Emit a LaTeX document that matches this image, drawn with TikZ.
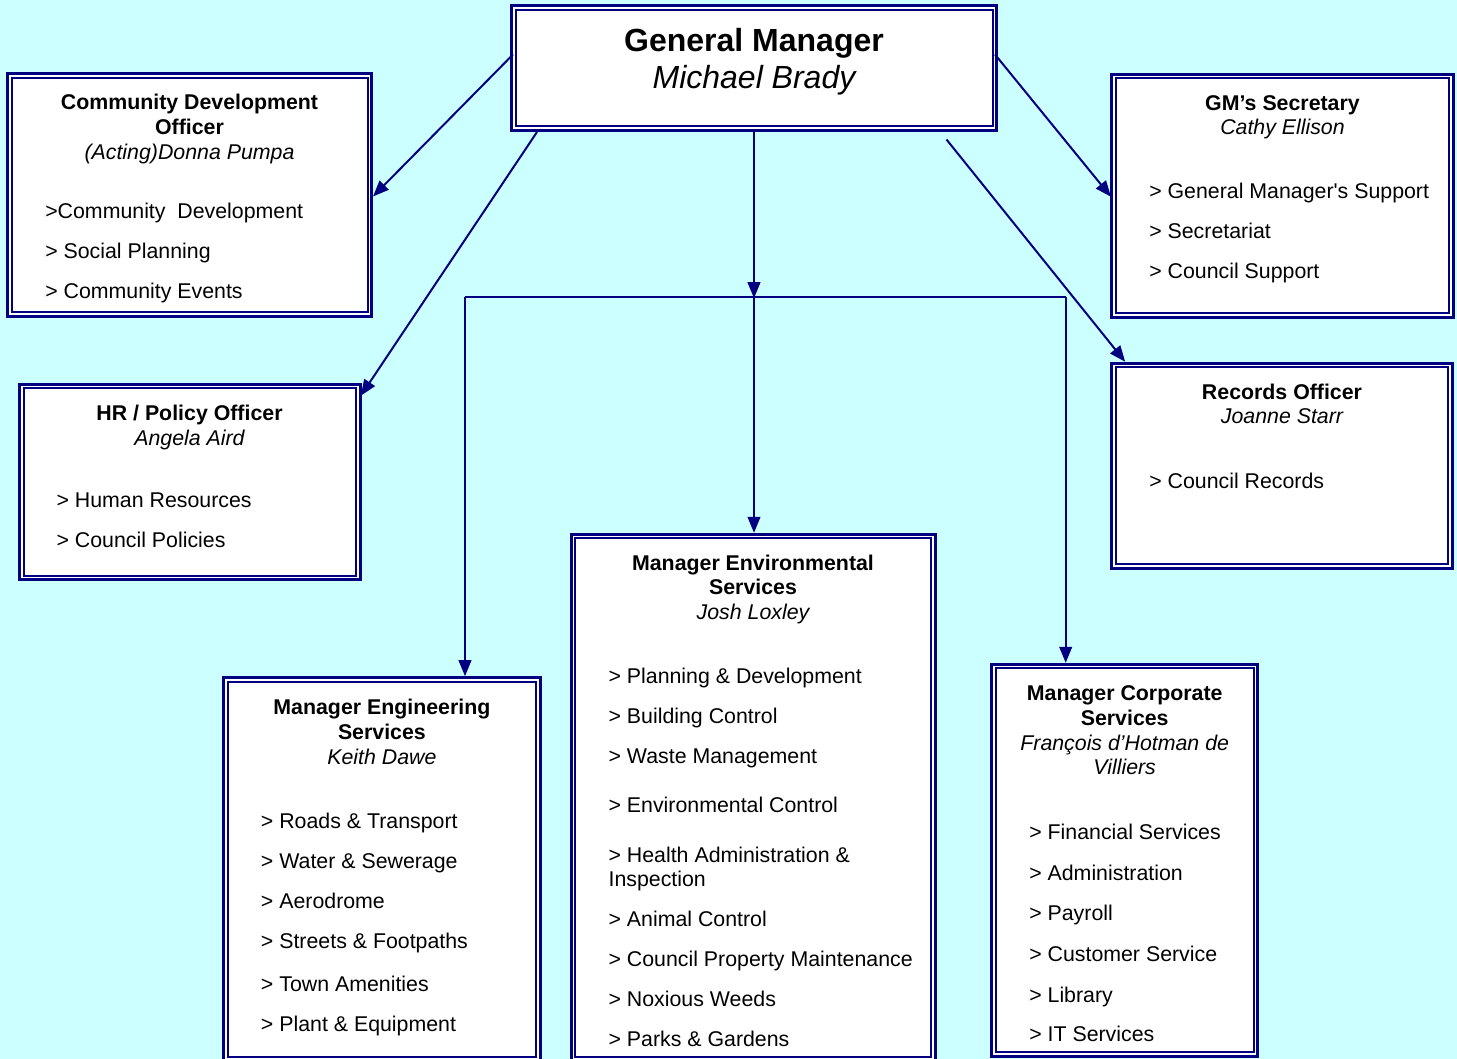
\documentclass[tikz,border=0pt]{standalone}
\usepackage{fontspec}
\setmainfont{Liberation Sans}[Ligatures=TeXOff]
\usetikzlibrary{arrows.meta,fit,calc}
\definecolor{navy}{RGB}{0,0,128}
\definecolor{bgc}{RGB}{204,255,255}
\tikzset{
  box/.style={draw=navy, line width=2.25pt, fill=white, inner sep=0pt, rectangle},
  innerbox/.style={draw=navy, line width=1.5pt},
  conn/.style={draw=navy, line width=1.5pt},
  arr/.style={conn, -{Triangle[length=12pt,width=9.5pt]}},
  txt/.style={inner sep=0pt, yshift=-0.9pt},
  ttl/.style={txt, font=\fontsize{16}{19}\selectfont\bfseries, anchor=base},
  nm/.style={txt, font=\fontsize{16}{19}\selectfont\itshape, anchor=base},
  itm/.style={txt, font=\fontsize{16}{19}\selectfont, anchor=base west},
  bigttl/.style={txt, font=\fontsize{24}{28}\selectfont\bfseries, anchor=base},
  bignm/.style={txt, font=\fontsize{24}{28}\selectfont\itshape, anchor=base},
}
\newcommand{\inbox}[1]{\draw[innerbox] ([shift={(5.5,5.5)}]#1.north west) rectangle ([shift={(-5.5,-5.5)}]#1.south east);}
\begin{document}
\begin{tikzpicture}[x=0.75pt,y=-0.75pt]
\useasboundingbox (0,0) rectangle (1457,1059);
\fill[bgc] (0,0) rectangle (1457,1059);
\begin{scope}
\clip (0,0) rectangle (1457,1059);
% boxes
\node[box, fit={(511.5,6) (996.5,130.5)}] (gm) {};
\node[box, fit={(7.5,74) (371.5,316.5)}] (cdo) {};
\node[box, fit={(1111.5,74.3) (1453.3,317.5)}] (sec) {};
\node[box, fit={(19.7,384.2) (360.3,579.7)}] (hr) {};
\node[box, fit={(1111.7,363.3) (1452.3,568.3)}] (rec) {};
\node[box, fit={(223.8,677.7) (540,1061)}] (eng) {};
\node[box, fit={(571,534.3) (935,1061)}] (env) {};
\node[box, fit={(991.7,664.3) (1257.7,1056)}] (corp) {};
\inbox{gm}\inbox{cdo}\inbox{sec}\inbox{hr}\inbox{rec}\inbox{eng}\inbox{env}\inbox{corp}
\end{scope}

% General Manager
\node[bigttl] (gmT) at (754,50.5) {General Manager};
\node[bignm] (gmN) at (754,87.8) {Michael Brady};

% Community Development Officer
\node[ttl] (cdoT1) at (189.5,108.5) {Community Development};
\node[ttl] (cdoT2) at (189.5,133) {Officer};
\node[nm] (cdoN) at (189.5,158) {(Acting)Donna Pumpa};
\node[itm] (cdoI1) at (45,217.2) {>Community\ \ Development};
\node[itm] (cdoI2) at (45,257.2) {> Social Planning};
\node[itm] (cdoI3) at (45,297.2) {> Community Events};

% GM's Secretary
\node[ttl] (secT) at (1282.5,109.3) {GM’s Secretary};
\node[nm] (secN) at (1282.5,133.8) {Cathy Ellison};
\node[itm] (secI1) at (1149,197.3) {> General Manager's Support};
\node[itm] (secI2) at (1149,237.3) {> Secretariat};
\node[itm] (secI3) at (1149,277.3) {> Council Support};

% HR / Policy Officer
\node[ttl] (hrT) at (189.5,419) {HR / Policy Officer};
\node[nm] (hrN) at (189.5,444.3) {Angela Aird};
\node[itm] (hrI1) at (56.3,506.7) {> Human Resources};
\node[itm] (hrI2) at (56.3,546) {> Council Policies};

% Records Officer
\node[ttl] (recT) at (1282,398.3) {Records Officer};
\node[nm] (recN) at (1282,422.5) {Joanne Starr};
\node[itm] (recI1) at (1149,487.7) {> Council Records};

% Manager Engineering Services
\node[ttl] (engT1) at (381.9,713.3) {Manager Engineering};
\node[ttl] (engT2) at (381.9,738.3) {Services};
\node[nm] (engN) at (381.9,763.5) {Keith Dawe};
\node[itm] (engI1) at (260.7,827.5) {> Roads \& Transport};
\node[itm] (engI2) at (260.7,867.5) {> Water \& Sewerage};
\node[itm] (engI3) at (260.7,907.5) {> Aerodrome};
\node[itm] (engI4) at (260.7,947.5) {> Streets \& Footpaths};
\node[itm] (engI5) at (260.7,990) {> Town Amenities};
\node[itm] (engI6) at (260.7,1030) {> Plant \& Equipment};

% Manager Environmental Services
\node[ttl] (envT1) at (753,569) {Manager Environmental};
\node[ttl] (envT2) at (753,593.5) {Services};
\node[nm] (envN) at (753,618.5) {Josh Loxley};
\node[itm] (envI1) at (608.3,682) {> Planning \& Development};
\node[itm] (envI2) at (608.3,722) {> Building Control};
\node[itm] (envI3) at (608.3,762) {> Waste Management};
\node[itm] (envI4) at (608.3,811) {> Environmental Control};
\node[itm] (envI5a) at (608.3,861) {> Health Administration \&};
\node[itm] (envI5b) at (608.3,885) {Inspection};
\node[itm] (envI6) at (608.3,925) {> Animal Control};
\node[itm] (envI7) at (608.3,965) {> Council Property Maintenance};
\node[itm] (envI8) at (608.3,1005) {> Noxious Weeds};
\node[itm] (envI9) at (608.3,1045) {> Parks \& Gardens};

% Manager Corporate Services
\node[ttl] (corpT1) at (1124.7,699.3) {Manager Corporate};
\node[ttl] (corpT2) at (1124.7,724) {Services};
\node[nm] (corpN1) at (1124.7,749) {François d’Hotman de};
\node[nm] (corpN2) at (1124.7,773.5) {Villiers};
\node[itm] (corpI1) at (1029,838.3) {> Financial Services};
\node[itm] (corpI2) at (1029,878.8) {> Administration};
\node[itm] (corpI3) at (1029,918.8) {> Payroll};
\node[itm] (corpI4) at (1029,960.3) {> Customer Service};
\node[itm] (corpI5) at (1029,1001.2) {> Library};
\node[itm] (corpI6) at (1029,1040.5) {> IT Services};

% connectors
\coordinate (busM) at ($(gm.south)+(0,166.2)$);
\coordinate (busL) at (465,296.7);
\coordinate (busR) at (1065.7,296.7);
\draw[conn] (busL) -- (busR);
\draw[arr] (gm.south) -- (busM);
\draw[arr] (busM) -- (busM |- env.north);
\draw[arr] (busL) -- (busL |- eng.north);
\draw[arr] (busR) -- (busR |- corp.north);
\draw[arr] ($(gm.north west)+(3,50)$) -- ($(cdo.north east)+(0,124)$);
\draw[arr] ($(gm.south west)+(27,0)$) -- ($(hr.north east)+(-1,13)$);
\draw[arr] ($(gm.north east)+(-3,50)$) -- ($(sec.north west)+(1,124)$);
\draw[arr] ($(gm.south east)+(-51.5,7.5)$) -- ($(rec.north west)+(15,0)$);
\end{tikzpicture}
\end{document}
